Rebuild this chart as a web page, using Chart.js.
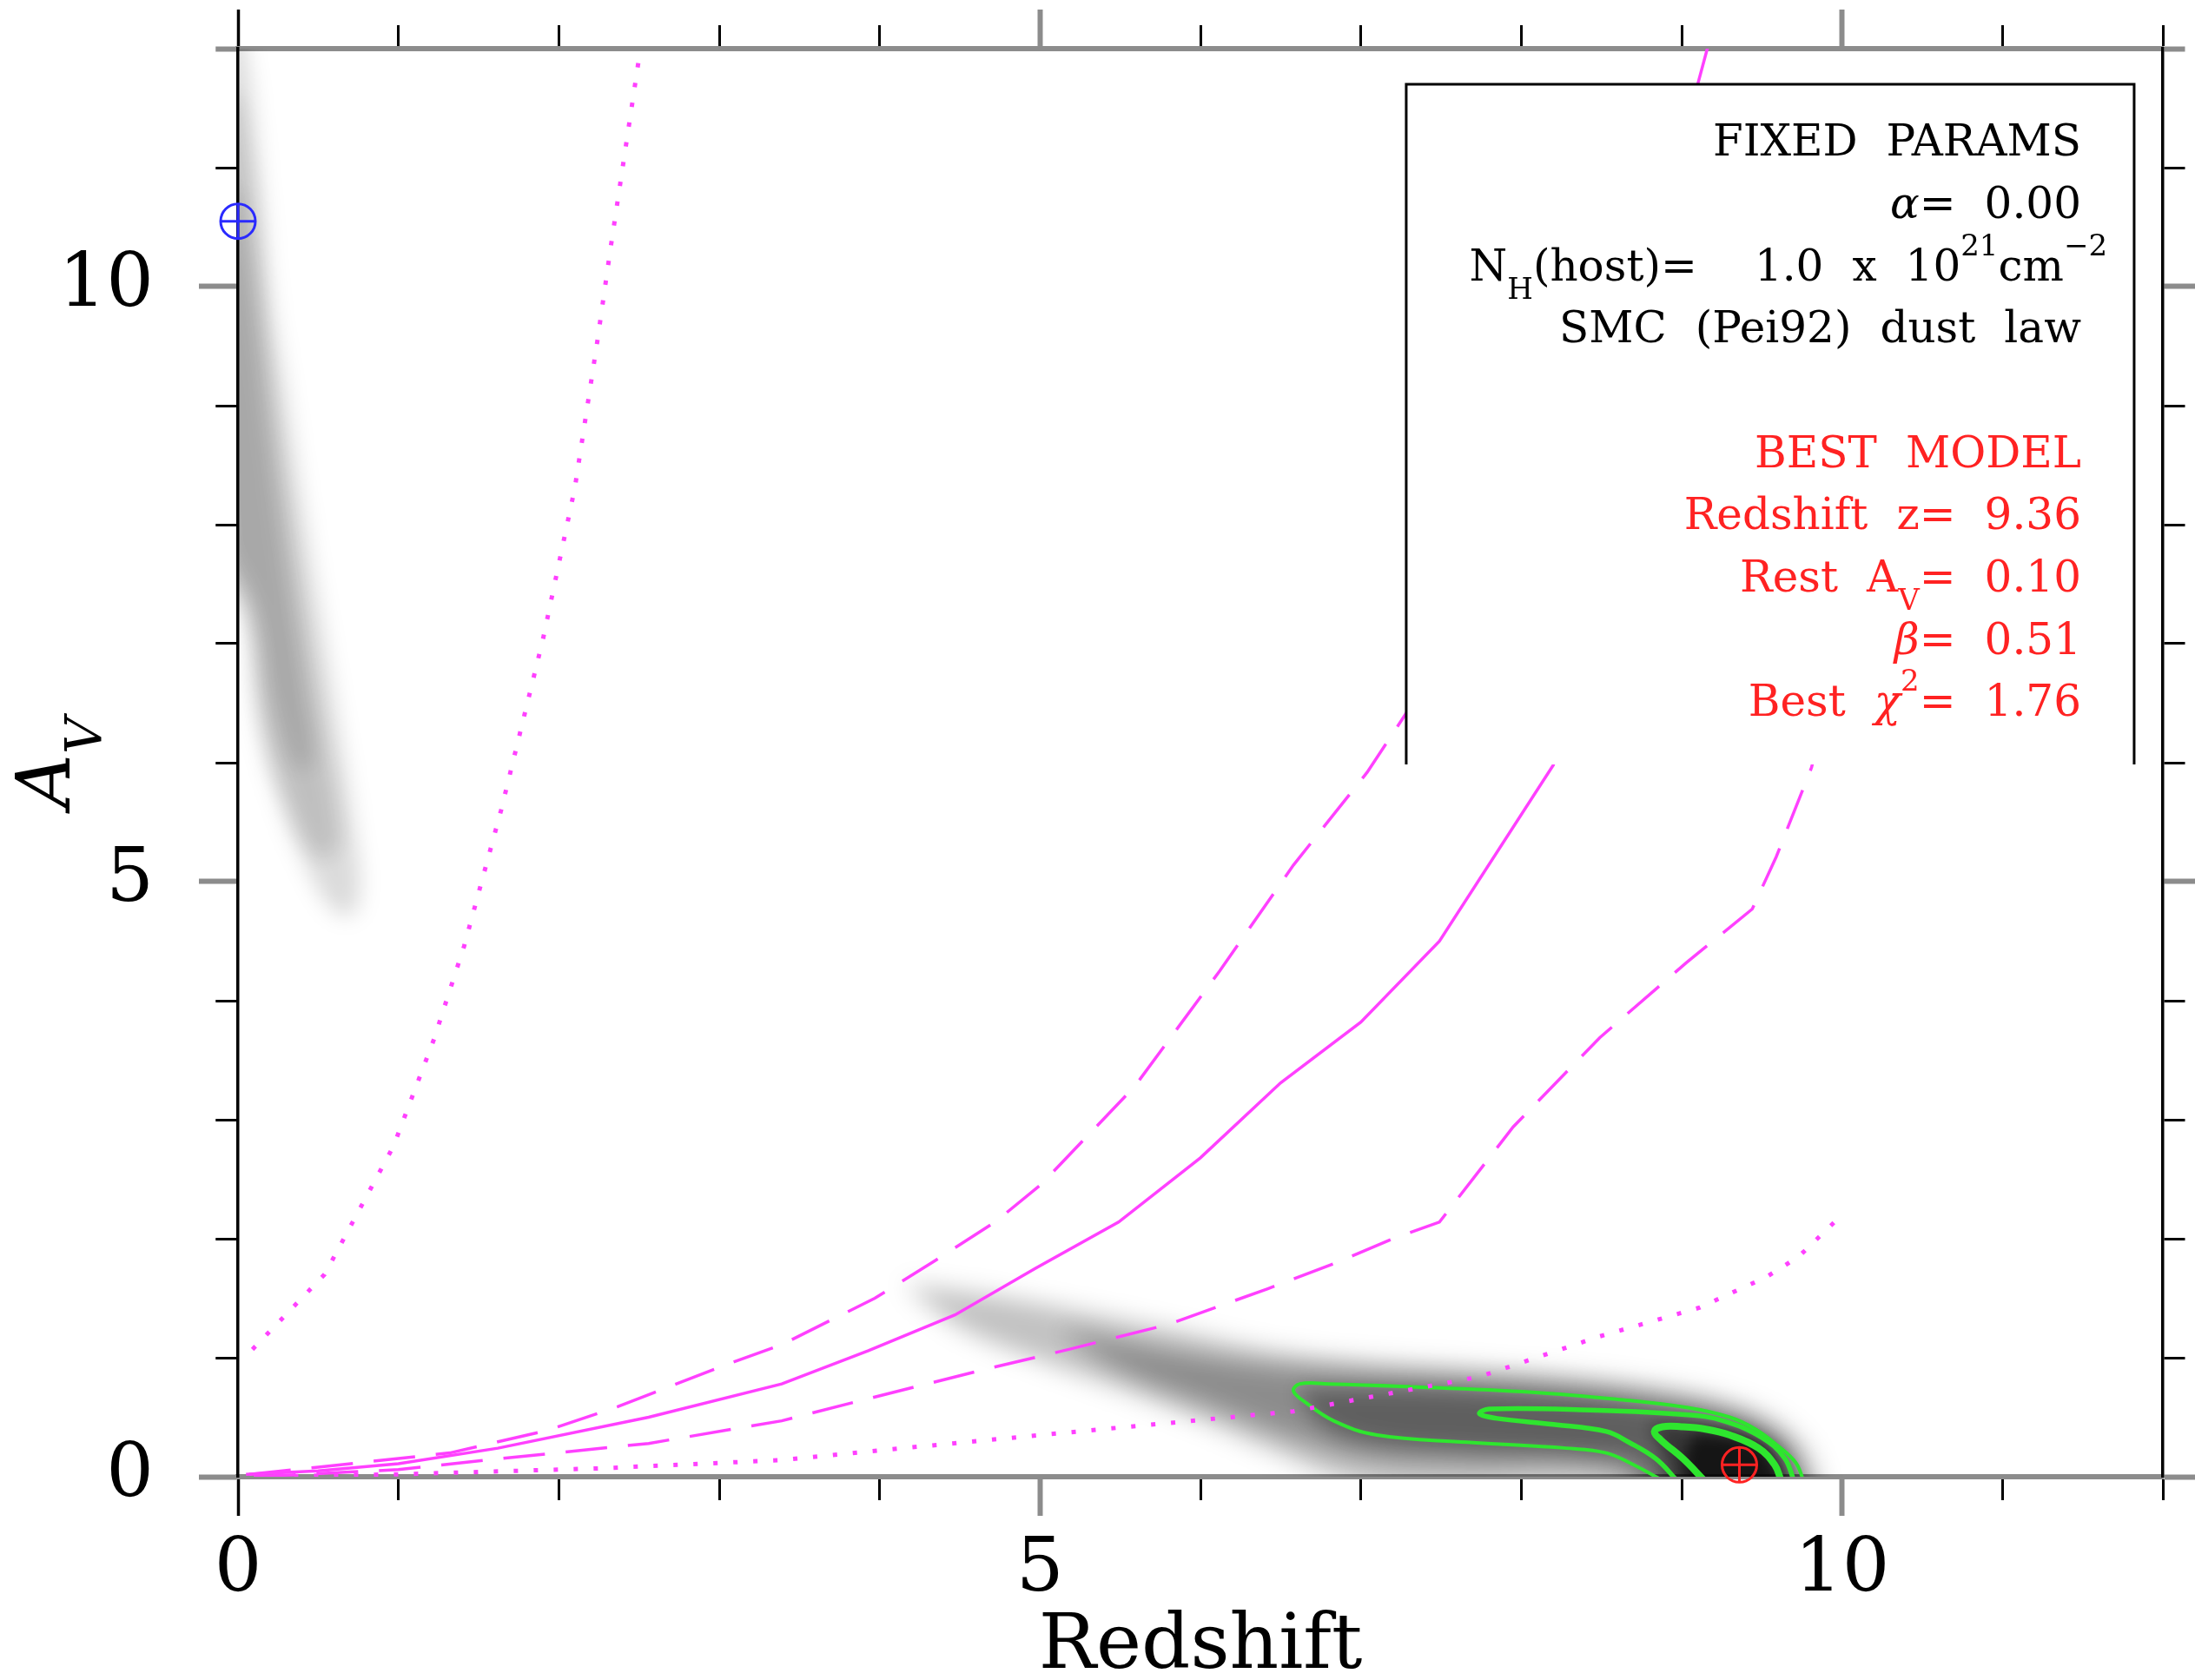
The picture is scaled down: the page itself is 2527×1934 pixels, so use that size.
<!DOCTYPE html>
<html>
<head>
<meta charset="utf-8">
<title>Redshift x A_V</title>
<script src="https://cdn.jsdelivr.net/npm/chart.js@4.4.0/dist/chart.umd.min.js"></script>
<style>
    html, body { margin: 0; padding: 0; background: #fff; }
    canvas { display: block; }
</style>
</head>
<body>
<canvas id="grafico" width="2527" height="1934"></canvas>
<script>
// Curva sólida (modelo central)
const zSolida  = [0.05, 0.5, 1.0, 1.62, 2.56, 3.39, 3.93, 4.47, 4.97, 5.49, 6.0, 6.5, 7.0, 7.49, 8.2, 8.7, 9.0, 9.18];
const avSolida = [0.02, 0.05, 0.11, 0.24, 0.50, 0.78, 1.06, 1.36, 1.75, 2.14, 2.68, 3.31, 3.82, 4.50, 5.98, 8.5, 11.2, 12.1];

// Curvas tracejadas
const zTracoSup  = [0.07, 0.5, 1.32, 1.93, 2.37, 3.02, 3.39, 3.97, 4.35, 4.72, 5.01, 5.59, 6.12, 6.58, 7.04, 7.28, 7.6];
const avTracoSup = [0.02, 0.08, 0.20, 0.39, 0.59, 0.93, 1.11, 1.50, 1.82, 2.14, 2.46, 3.28, 4.25, 5.14, 5.92, 6.41, 7.2];
const zTracoInf  = [0.1, 1.0, 1.62, 2.56, 3.39, 3.97, 4.68, 5.18, 5.80, 6.42, 6.83, 7.2, 7.49, 7.95, 8.49, 9.03, 9.44, 9.59, 9.81, 10.0];
const avTracoInf = [0.0, 0.06, 0.15, 0.28, 0.47, 0.67, 0.91, 1.07, 1.28, 1.58, 1.79, 2.0, 2.14, 2.94, 3.69, 4.32, 4.77, 5.21, 5.96, 7.0];

// Curvas pontilhadas
const zPontoSup  = [0.09, 0.54, 0.97, 1.22, 1.41, 1.64, 1.90, 2.10, 2.24, 2.32, 2.52];
const avPontoSup = [1.07, 1.70, 2.78, 3.67, 4.46, 5.60, 7.03, 8.31, 9.54, 10.3, 12.1];
const zPontoInf  = [0.1, 0.99, 2.25, 3.39, 3.99, 5.0, 6.58, 7.74, 8.49, 9.11, 9.53, 9.73, 9.96, 10.0];
const avPontoInf = [0.0, 0.02, 0.07, 0.14, 0.22, 0.35, 0.55, 0.84, 1.18, 1.42, 1.68, 1.85, 2.15, 2.2];

// Contornos de confiança (verde)
const zContExt  = [8.88, 8.70, 8.53, 8.28, 7.66, 7.1, 6.83, 6.66, 6.58, 6.62, 6.8, 7.25, 8.07, 8.6, 9.04, 9.30, 9.46, 9.60, 9.71, 9.76];
const avContExt = [-0.03, 0.10, 0.20, 0.24, 0.29, 0.35, 0.47, 0.62, 0.72, 0.78, 0.78, 0.76, 0.71, 0.65, 0.58, 0.50, 0.40, 0.26, 0.12, -0.03];
const zContMed  = [8.97, 8.84, 8.67, 8.53, 8.2, 7.85, 7.74, 7.80, 8.43, 9.04, 9.26, 9.50, 9.64, 9.70];
const avContMed = [-0.03, 0.15, 0.29, 0.38, 0.44, 0.49, 0.53, 0.57, 0.56, 0.52, 0.47, 0.33, 0.16, -0.03];
const zContInt  = [9.14, 9.01, 8.87, 8.83, 8.88, 9.0, 9.15, 9.3, 9.48, 9.58, 9.62];
const avContInt = [-0.03, 0.15, 0.31, 0.38, 0.42, 0.42, 0.40, 0.35, 0.24, 0.10, -0.03];

// Mapa de probabilidade - região à esquerda (camadas)
const zMapaE1  = [0.0, 0.07, 0.15, 0.21, 0.29, 0.40, 0.52, 0.64, 0.73, 0.76, 0.71, 0.58, 0.40, 0.25, 0.13, 0.05, -0.1, -0.1];
const avMapaE1 = [12.3, 11.8, 10.8, 9.9, 9.2, 8.2, 7.2, 6.2, 5.4, 4.95, 4.72, 4.78, 5.2, 5.7, 6.3, 7.2, 7.6, 12.3];
const zMapaE2  = [0.0, 0.11, 0.19, 0.30, 0.41, 0.52, 0.61, 0.62, 0.50, 0.30, 0.15, 0.06, -0.1, -0.1];
const avMapaE2 = [11.6, 10.5, 9.3, 8.2, 7.2, 6.3, 5.6, 5.3, 5.2, 5.7, 6.4, 7.3, 7.9, 11.6];
const zMapaE3  = [0.0, 0.12, 0.22, 0.32, 0.42, 0.47, 0.37, 0.22, 0.10, -0.1, -0.1];
const avMapaE3 = [10.8, 9.7, 8.5, 7.5, 6.6, 6.0, 5.95, 6.5, 7.3, 7.9, 10.8];

// Mapa de probabilidade - região principal (camadas)
const zMapaD1  = [4.15, 4.7, 5.2, 5.8, 6.42, 7.0, 7.66, 8.3, 8.9, 9.3, 9.58, 9.76, 9.83, 9.85, 8.9, 8.6, 7.3, 6.85, 6.45, 6.0, 5.5, 5.0, 4.5, 4.15];
const avMapaD1 = [1.62, 1.52, 1.40, 1.24, 1.07, 0.98, 0.92, 0.85, 0.75, 0.63, 0.47, 0.26, 0.06, -0.3, -0.3, -0.1, -0.1, 0.0, 0.22, 0.48, 0.74, 0.98, 1.26, 1.62];
const zMapaD2  = [5.1, 6.2, 7.0, 7.7, 8.4, 8.9, 9.3, 9.55, 9.70, 9.75, 8.85, 8.6, 7.6, 7.0, 6.6, 6.1, 5.5, 5.1];
const avMapaD2 = [1.24, 0.97, 0.88, 0.83, 0.76, 0.66, 0.54, 0.38, 0.16, -0.3, -0.3, 0.05, 0.10, 0.16, 0.32, 0.58, 0.90, 1.24];
const zMapaD3  = [6.6, 7.3, 8.1, 8.9, 9.3, 9.55, 9.68, 9.72, 8.95, 8.75, 8.4, 7.6, 7.05, 6.75, 6.6];
const avMapaD3 = [0.74, 0.74, 0.69, 0.58, 0.47, 0.32, 0.12, -0.3, -0.3, 0.10, 0.18, 0.23, 0.29, 0.45, 0.74];
const zMapaD4  = [8.8, 9.2, 9.47, 9.62, 9.66, 9.0, 8.9, 8.8];
const avMapaD4 = [0.45, 0.42, 0.32, 0.13, -0.3, -0.3, 0.15, 0.45];
const zMapaD5  = [9.08, 9.35, 9.54, 9.60, 9.12, 9.02, 9.08];
const avMapaD5 = [0.36, 0.32, 0.19, -0.3, -0.3, 0.12, 0.36];

// Marcadores: melhor modelo e solução alternativa
const zMelhor = [9.36], avMelhor = [0.10];
const zAltern = [0.0],  avAltern = [10.55];

// Rótulos dos eixos
const ticksRotulados = [0, 5, 10];
const tituloX = 'Redshift';

// Texto da caixa
const linhasFixas = [
    [{ t: 'FIXED PARAMS' }],
    [{ t: 'α', it: true }, { t: '= 0.00' }],
    [{ t: 'N' }, { t: 'H', tipo: 'sub' }, { t: '(host)=  1.0 x 10' }, { t: '21', tipo: 'sup' }, { t: 'cm' }, { t: '−2', tipo: 'sup' }],
    [{ t: 'SMC (Pei92) dust law' }]
];
const linhasMelhor = [
    [{ t: 'BEST MODEL' }],
    [{ t: 'Redshift z= 9.36' }],
    [{ t: 'Rest A' }, { t: 'V', tipo: 'sub' }, { t: '= 0.10' }],
    [{ t: 'β', it: true }, { t: '= 0.51' }],
    [{ t: 'Best ' }, { t: 'χ', it: true }, { t: '2', tipo: 'sup' }, { t: '= 1.76' }]
];

const FAMILIA = '"DejaVu Serif", "Liberation Serif", serif';
const MAGENTA = '#ff40ff';
const VERDE = '#2ee62e';
const CINZA = '#8c8c8c';

const pares = (zs, avs) => zs.map((z, i) => ({ x: z, y: avs[i] }));

// Camada de mapa (polígono preenchido e desfocado)
const camada = (zs, avs, alfa, desfoque) => ({
    data: pares(zs, avs),
    borderWidth: 0,
    backgroundColor: `rgba(0, 0, 0, ${alfa})`,
    fill: 'shape',
    tension: 0.4,
    desfoque: desfoque
});

const curva = (zs, avs, traco, largura) => ({
    data: pares(zs, avs),
    borderColor: MAGENTA,
    borderWidth: largura,
    borderDash: traco,
    fill: false,
    tension: 0
});

const contorno = (zs, avs, largura) => ({
    data: pares(zs, avs),
    borderColor: VERDE,
    borderWidth: largura,
    fill: false,
    tension: 0.4
});

const marcador = (zs, avs, cor) => ({
    data: pares(zs.concat(zs), avs.concat(avs)),
    showLine: false,
    pointStyle: ['circle', 'cross'],
    pointRadius: 20,
    pointBorderWidth: 3,
    pointBorderColor: cor,
    pointBackgroundColor: 'rgba(0, 0, 0, 0)',
    clip: false
});

// Ordem: o primeiro fica por cima
const datasets = [
    marcador(zMelhor, avMelhor, '#ff2222'),
    marcador(zAltern, avAltern, '#2a2aff'),
    curva(zSolida, avSolida, [], 3.5),
    curva(zTracoSup, avTracoSup, [48, 24], 3.5),
    curva(zTracoInf, avTracoInf, [48, 24], 3.5),
    curva(zPontoSup, avPontoSup, [5, 18], 5),
    curva(zPontoInf, avPontoInf, [5, 18], 5),
    contorno(zContInt, avContInt, 8),
    contorno(zContMed, avContMed, 5.5),
    contorno(zContExt, avContExt, 4),
    camada(zMapaD5, avMapaD5, 0.6, 8),
    camada(zMapaD4, avMapaD4, 0.45, 10),
    camada(zMapaD3, avMapaD3, 0.32, 12),
    camada(zMapaD2, avMapaD2, 0.28, 14),
    camada(zMapaD1, avMapaD1, 0.24, 14),
    camada(zMapaE3, avMapaE3, 0.12, 12),
    camada(zMapaE2, avMapaE2, 0.13, 12),
    camada(zMapaE1, avMapaE1, 0.14, 12)
];

// Estilo dos traços de escala (maiores em cinza, menores em preto)
function estiloTick(c, ehX) {
    const v = c.tick ? c.tick.value : -1;
    if (ticksRotulados.includes(v)) {
        if (ehX && v === 0) return { cor: '#000', largura: 3.5, curto: false };
        return { cor: CINZA, largura: 6, curto: false };
    }
    if (!ehX && v === 12) return { cor: CINZA, largura: 6, curto: true };
    return { cor: '#000', largura: 3, curto: true };
}

function gradeEixo(lado) {
    const ehX = lado === 'bottom' || lado === 'top';
    const doExterior = lado === 'left' || lado === 'top';
    const meiaBorda = ehX ? 3 : 1.75;
    return {
        drawOnChartArea: false,
        drawTicks: true,
        tickLength: 45,
        color: 'rgba(0, 0, 0, 0)',
        lineWidth: 1,
        tickColor: (c) => estiloTick(c, ehX).cor,
        tickWidth: (c) => estiloTick(c, ehX).largura,
        tickBorderDash: (c) => estiloTick(c, ehX).curto ? [24, 300] : [],
        tickBorderDashOffset: (c) => (estiloTick(c, ehX).curto && doExterior) ? 324 - (45 - meiaBorda - 24) : 0
    };
}

// Tamanho fixo de cada eixo, sem folga extra dos rótulos
const fixarTamanho = (largura, altura) => (e) => {
    if (largura !== null) e.width = largura;
    if (altura !== null) e.height = altura;
    e.paddingTop = 0;
    e.paddingBottom = 0;
    e.paddingLeft = 0;
    e.paddingRight = 0;
};

const rotuloTick = (valor) => ticksRotulados.includes(valor) ? String(valor) : '';
const fonteTicks = { family: FAMILIA, size: 86 };

// Desfoque das camadas do mapa
function aplicarFiltro(chart, meta) {
    const ds = meta ? chart.data.datasets[meta.index] : null;
    chart.ctx.filter = ds && ds.desfoque ? `blur(${ds.desfoque}px)` : 'none';
}

const pluginDesfoque = {
    id: 'desfoque',
    beforeDatasetsDraw(chart) {
        const metas = chart.getSortedVisibleDatasetMetas();
        aplicarFiltro(chart, metas[metas.length - 1]);
    },
    afterDatasetDraw(chart, args) {
        const metas = chart.getSortedVisibleDatasetMetas();
        const pos = metas.indexOf(args.meta);
        aplicarFiltro(chart, metas[pos - 1]);
    },
    afterDatasetsDraw(chart) {
        chart.ctx.filter = 'none';
    }
};

// Texto com sub/sobrescrito
const fonte = (tam, it) => (it ? 'italic ' : '') + tam + 'px ' + FAMILIA;
const tamParte = (p, tam) => (p.tipo === 'sub' || p.tipo === 'sup') ? tam * 0.68 : tam;
const ESPACO = 0.66;

function larguraParte(ctx, p, tam) {
    const t = tamParte(p, tam);
    ctx.font = fonte(t, p.it);
    const palavras = p.t.split(' ');
    let w = 0;
    palavras.forEach((pal, i) => {
        w += ctx.measureText(pal).width;
        if (i < palavras.length - 1) w += t * ESPACO;
    });
    return w;
}

function larguraLinha(ctx, partes, tam) {
    let w = 0;
    partes.forEach(p => { w += larguraParte(ctx, p, tam); });
    const ultima = partes[partes.length - 1];
    if (ultima.tipo === 'sup') w -= larguraParte(ctx, ultima, tam) * 0.6;
    return w;
}

function desenharPartes(ctx, partes, x, y, tam) {
    partes.forEach(p => {
        const t = tamParte(p, tam);
        const dy = p.tipo === 'sub' ? tam * 0.42 : (p.tipo === 'sup' ? -tam * 0.58 : 0);
        ctx.font = fonte(t, p.it);
        const palavras = p.t.split(' ');
        palavras.forEach((pal, i) => {
            ctx.fillText(pal, x, y + dy);
            x += ctx.measureText(pal).width;
            if (i < palavras.length - 1) x += t * ESPACO;
        });
    });
}

// Caixa de parâmetros (em unidades dos eixos)
const caixa = { z0: 7.283, z1: 11.821, av0: 5.985, av1: 11.70 };

const pluginAnotacoes = {
    id: 'anotacoes',
    afterDatasetsDraw(chart) {
        const ctx = chart.ctx;
        const sx = chart.scales.x, sy = chart.scales.y;
        const area = chart.chartArea;
        ctx.save();
        ctx.filter = 'none';

        // caixa branca sem borda inferior
        const x0 = sx.getPixelForValue(caixa.z0), x1 = sx.getPixelForValue(caixa.z1);
        const y0 = sy.getPixelForValue(caixa.av0), y1 = sy.getPixelForValue(caixa.av1);
        ctx.fillStyle = '#fff';
        ctx.fillRect(x0, y1, x1 - x0, y0 - y1);
        ctx.strokeStyle = '#000';
        ctx.lineWidth = 3;
        ctx.beginPath();
        ctx.moveTo(x0, y0);
        ctx.lineTo(x0, y1);
        ctx.lineTo(x1, y1);
        ctx.lineTo(x1, y0);
        ctx.stroke();

        // texto alinhado à direita
        const tam = 50;
        const direita = x1 - 61;
        const passo = 71.7;
        let base = y1 + 82;
        ctx.textAlign = 'left';
        ctx.textBaseline = 'alphabetic';
        ctx.fillStyle = '#000';
        linhasFixas.forEach(l => {
            desenharPartes(ctx, l, direita - larguraLinha(ctx, l, tam), base, tam);
            base += passo;
        });
        base += passo;
        ctx.fillStyle = '#ff2222';
        linhasMelhor.forEach(l => {
            desenharPartes(ctx, l, direita - larguraLinha(ctx, l, tam), base, tam);
            base += passo;
        });

        // título do eixo x
        ctx.fillStyle = '#000';
        ctx.font = fonte(88, false);
        ctx.textAlign = 'center';
        ctx.fillText(tituloX, (area.left + area.right) / 2, area.bottom + 220);

        // título do eixo y: A com V subscrito, girado
        const partesY = [{ t: 'A', it: true }, { t: 'V', tipo: 'sub', it: true }];
        ctx.textAlign = 'left';
        const wy = larguraLinha(ctx, partesY, 86);
        ctx.translate(area.left - 194, (area.top + area.bottom) / 2 + wy / 2);
        ctx.rotate(-Math.PI / 2);
        desenharPartes(ctx, partesY, 0, 0, 86);
        ctx.restore();
    }
};

const grafico = new Chart(document.getElementById('grafico'), {
    type: 'line',
    data: { datasets: datasets },
    options: {
        responsive: false,
        devicePixelRatio: 1,
        animation: false,
        events: [],
        layout: { padding: 0 },
        elements: {
            point: { radius: 0 },
            line: { capBezierPoints: false }
        },
        plugins: {
            legend: { display: false },
            tooltip: { enabled: false }
        },
        scales: {
            x: {
                type: 'linear', position: 'bottom', min: 0, max: 12,
                ticks: { stepSize: 1, autoSkip: false, maxRotation: 0, minRotation: 0, padding: 12, color: '#000', font: fonteTicks, callback: rotuloTick },
                grid: gradeEixo('bottom'),
                border: { color: CINZA, width: 6 },
                afterFit: fixarTamanho(null, 234)
            },
            x2: {
                type: 'linear', position: 'top', min: 0, max: 12,
                ticks: { stepSize: 1, autoSkip: false, display: false },
                grid: gradeEixo('top'),
                border: { color: CINZA, width: 6 },
                afterFit: fixarTamanho(null, 56)
            },
            y: {
                type: 'linear', position: 'left', min: 0, max: 12,
                ticks: { stepSize: 1, autoSkip: false, padding: 52, color: '#000', font: fonteTicks, callback: rotuloTick },
                grid: gradeEixo('left'),
                border: { color: '#000', width: 3.5 },
                afterFit: fixarTamanho(274, null)
            },
            y2: {
                type: 'linear', position: 'right', min: 0, max: 12,
                ticks: { stepSize: 1, autoSkip: false, display: false },
                grid: gradeEixo('right'),
                border: { color: '#000', width: 3.5 },
                afterFit: fixarTamanho(37, null)
            }
        }
    },
    plugins: [pluginDesfoque, pluginAnotacoes]
});
</script>
</body>
</html>
